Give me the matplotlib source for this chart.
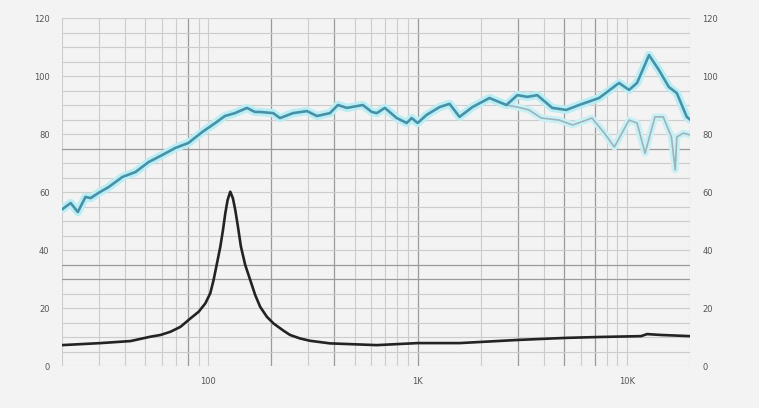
import matplotlib
matplotlib.use("Agg")
import matplotlib.pyplot as plt
import numpy as np

# ---- data ----
spl_freq = [20, 22, 23.8, 25.9, 27.4, 29.9, 33.4, 38.9, 44.9, 51.8, 60.4, 69.6, 80.3, 93.6,
            108, 120, 134, 153, 167, 177, 204, 220, 254, 296, 330, 381, 416, 459, 547, 604,
            638, 697, 794, 887, 936, 1000, 1104, 1274, 1420, 1585, 1828, 2203, 2655, 2994,
            3342, 3727, 4394, 5129, 5906, 7356, 9163, 10230, 11170, 12740, 14200, 15850,
            17300, 19300, 20000]
spl_db = [54.0, 56.2, 53.1, 58.3, 57.9, 59.7, 61.7, 65.2, 66.9, 70.3, 72.8, 75.2, 76.9, 80.7,
          83.8, 86.2, 87.2, 89.0, 87.6, 87.6, 87.2, 85.5, 87.2, 87.9, 86.2, 87.2, 90.0, 89.0,
          90.0, 87.6, 87.2, 89.0, 85.5, 83.8, 85.5, 83.8, 86.6, 89.3, 90.4, 85.9, 89.3, 92.4,
          90.0, 93.4, 92.8, 93.4, 89.0, 88.3, 90.0, 92.4, 97.6, 95.2, 97.6, 107.2, 102.1,
          96.2, 94.1, 85.9, 85.0]

off_freq = [2655, 2994, 3400, 3900, 4746, 5500, 6800, 7800, 8700, 10230, 11170, 12200,
            13600, 14900, 16300, 17000, 17300, 18600, 20000]
off_db = [90.0, 89.3, 88.3, 85.5, 84.8, 83.1, 85.5, 80.3, 75.5, 84.8, 83.8, 73.4,
          85.9, 85.9, 79.0, 67.6, 79.0, 80.3, 79.7]

imp_freq = [20, 30.6, 42.5, 52.9, 59.1, 65.9, 73.6, 82.1, 89.9, 96.8, 102.2, 106.0, 110.0,
            114.1, 117.5, 120.5, 123.6, 127.3, 131.1, 134.5, 138.5, 143.1, 150.1, 158.5,
            167.4, 176.9, 190.3, 204.6, 228.4, 245.8, 274.2, 305.9, 381, 638, 1000, 1585,
            3041, 5129, 7356, 11680, 12470, 14530, 20000]
imp_val = [7.2, 7.9, 8.6, 10.1, 10.7, 11.8, 13.5, 16.4, 18.7, 21.6, 25.1, 29.7, 35.4,
           41.1, 46.9, 52.6, 57.2, 60.1, 57.8, 53.8, 48.1, 41.2, 34.8, 29.7,
           24.5, 20.4, 17.0, 14.7, 12.2, 10.7, 9.5, 8.7, 7.8, 7.2, 7.9, 7.9,
           9.0, 9.7, 10.0, 10.3, 11.0, 10.7, 10.3]

y_ticks = [0, 20, 40, 60, 80, 100, 120]
x_tick_pos = [100, 1000, 10000]
x_tick_lab = ["100", "1K", "10K"]

# ---- figure ----
bg = "#f3f3f3"
fig = plt.figure(figsize=(7.59, 4.08), dpi=100, facecolor=bg)
ax = fig.add_axes([62/759, 1-366/408, 628/759, 348/408])
ax.set_facecolor(bg)
ax.set_xscale("log")
ax.set_xlim(20, 20000)
ax.set_ylim(0, 120)

# grid
light = "#cccccc"
dark = "#9a9a9a"
dark_x = {80, 200, 400, 1000, 3000, 5000, 7000}
for dec in [10, 100, 1000, 10000]:
    for m in range(1, 10):
        f = dec * m
        if 20 <= f <= 20000:
            ax.axvline(f, color=dark if f in dark_x else light, lw=0.9 if f in dark_x else 0.8, zorder=0)
ax.axvline(20000, color=light, lw=0.8, zorder=0)
dark_y = {75, 35, 30}
for yv in range(0, 121, 5):
    ax.axhline(yv, color=dark if yv in dark_y else light, lw=0.9 if yv in dark_y else 0.8, zorder=0)

for s in ax.spines.values():
    s.set_visible(False)

# curves
ax.plot(off_freq, off_db, color="#c8f0f5", lw=5, solid_capstyle="round", zorder=1)
ax.plot(spl_freq, spl_db, color="#baeef4", lw=6, solid_capstyle="round", zorder=2)
ax.plot(off_freq, off_db, color="#9db3b9", lw=1.2, zorder=3)
ax.plot(spl_freq, spl_db, color="#4791a8", lw=1.9, zorder=4)
ax.plot(imp_freq, imp_val, color="#232323", lw=1.9, zorder=4)

# ticks
ax.set_yticks(y_ticks)
ax.set_yticklabels([str(v) for v in y_ticks])
ax.set_xticks(x_tick_pos)
ax.set_xticklabels(x_tick_lab)
ax.xaxis.set_minor_locator(matplotlib.ticker.NullLocator())
ax.tick_params(axis="both", length=0, labelsize=6, labelcolor="#555555")
ax.tick_params(axis="y", pad=9, labelright=True, right=False)
ax.tick_params(axis="x", pad=8)

fig.savefig("out.png", dpi=100, facecolor=bg)
